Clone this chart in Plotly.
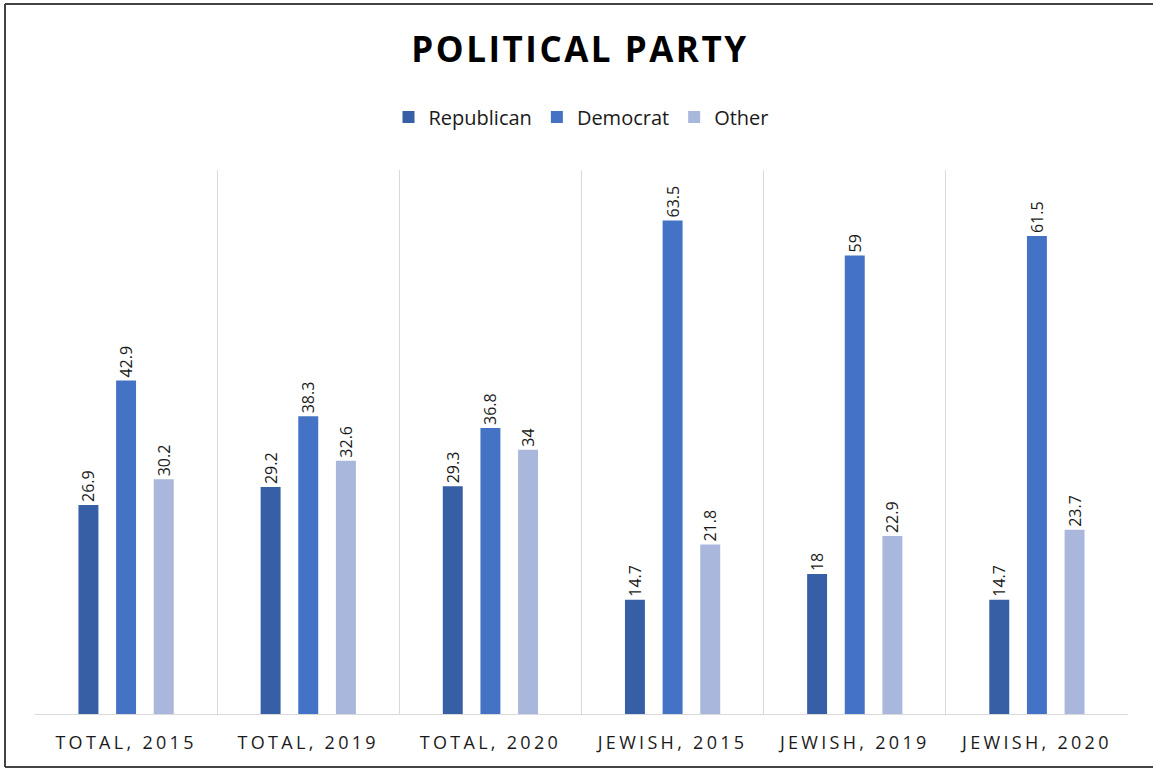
import plotly.graph_objects as go

categories = ["TOTAL, 2015", "TOTAL, 2019", "TOTAL, 2020", "JEWISH, 2015", "JEWISH, 2019", "JEWISH, 2020"]
republican = [26.9, 29.2, 29.3, 14.7, 18, 14.7]
democrat = [42.9, 38.3, 36.8, 63.5, 59, 61.5]
other = [30.2, 32.6, 34, 21.8, 22.9, 23.7]

series = [("Republican", republican, "#375fa6"), ("Democrat", democrat, "#4472c4"), ("Other", other, "#a9b7dc")]

fig = go.Figure()
for name, vals, col in series:
    fig.add_trace(go.Bar(
        name=name, x=categories, y=vals, marker=dict(color=col, line=dict(width=0)),
        text=[str(v) for v in vals], textposition="outside", textangle=-90,
        textfont=dict(family="Open Sans, sans-serif", size=16, color="#1a1a1a"),
        cliponaxis=False,
    ))

W, H = 1153, 771
L, T = 35, 170
R = W - 1128
B = H - 714
pw, ph = W - L - R, H - T - B

def py(y):
    return (714 - y) / ph

def px(x):
    return (x - 35) / pw

ticktext = ['<span style="letter-spacing:3.3px">%s</span>' % c for c in categories]

border = dict(color="#444444", width=2)
shapes = [
    dict(type="line", xref="paper", yref="paper", x0=px(5), x1=px(1200), y0=py(4), y1=py(4), line=border, layer="below"),
    dict(type="line", xref="paper", yref="paper", x0=px(5), x1=px(5), y0=py(4), y1=py(767), line=border, layer="below"),
    dict(type="line", xref="paper", yref="paper", x0=px(5), x1=px(1200), y0=py(767), y1=py(767), line=border, layer="below"),
]

fig.update_layout(
    width=W, height=H,
    margin=dict(l=L, r=R, t=T, b=B),
    paper_bgcolor="white", plot_bgcolor="white",
    barmode="group", bargap=0.38, bargroupgap=0.47,
    uniformtext=dict(minsize=16, mode="show"),
    title=dict(text='<b><span style="letter-spacing:2.5px">POLITICAL PARTY</span></b>',
               x=0.503, xanchor="center", y=1 - 50 / H, yanchor="middle",
               font=dict(family="Open Sans, sans-serif", size=35, color="black")),
    legend=dict(orientation="h", x=0.5, xanchor="center", y=py(117),
                yanchor="middle", font=dict(family="Open Sans, sans-serif", size=20, color="#1a1a1a"),
                traceorder="normal", itemwidth=30),
    xaxis=dict(type="category", tickson="boundaries", showgrid=True, gridcolor="#d9d9d9", gridwidth=1,
               showline=True, linecolor="#d9d9d9", linewidth=1, ticks="",
               tickvals=categories, ticktext=ticktext, ticklabelstandoff=12,
               tickfont=dict(family="Open Sans, sans-serif", size=18, color="#1a1a1a")),
    yaxis=dict(range=[0, 70], showgrid=False, showticklabels=False, zeroline=False, showline=False),
    showlegend=True,
    shapes=shapes,
)

fig.write_html("out.html", config={"displayModeBar": False},
               post_script="document.body.style.margin='0';document.body.style.overflow='hidden';")
